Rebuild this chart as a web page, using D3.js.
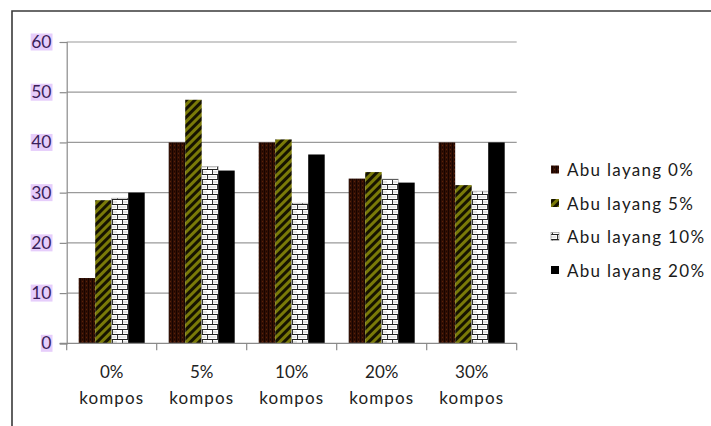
<!DOCTYPE html>
<html>
<head>
<meta charset="utf-8">
<script src="https://cdn.jsdelivr.net/npm/d3@7"></script>
<style>
  html, body { margin: 0; padding: 0; background: #fff; }
  svg { display: block; }
  text { font-family: Lato, "Open Sans", sans-serif; }
</style>
</head>
<body>
<svg id="chart" width="711" height="426"></svg>
<script>
// Compressive strength by compost share, one bar per fly-ash share
const categories = ["0%", "5%", "10%", "20%", "30%"];
const categorySuffix = "kompos";
const seriesNames = ["Abu layang 0%", "Abu layang 5%", "Abu layang 10%", "Abu layang 20%"];
const abuLayang0 = [13, 40, 40, 32.8, 40];
const abuLayang5 = [28.5, 48.5, 40.6, 34.1, 31.5];
const abuLayang10 = [28.9, 35.2, 27.9, 32.7, 30.3];
const abuLayang20 = [30, 34.4, 37.6, 32, 40];
const yTicks = [0, 10, 20, 30, 40, 50, 60];

const seriesValues = [abuLayang0, abuLayang5, abuLayang10, abuLayang20];

const svg = d3.select("#chart");

// ---- fill patterns ----
const defs = svg.append("defs");

// dark brown, fine dotted grid
const pBrown = defs.append("pattern").attr("id", "pBrown")
  .attr("patternUnits", "userSpaceOnUse").attr("width", 4).attr("height", 4);
pBrown.append("rect").attr("width", 4).attr("height", 4).attr("fill", "#331004");
pBrown.append("rect").attr("x", 0).attr("width", 1).attr("height", 4).attr("fill", "#170400");
pBrown.append("rect").attr("x", 2).attr("y", 1).attr("width", 1).attr("height", 1).attr("fill", "#5a220a");
pBrown.append("rect").attr("x", 2).attr("y", 3).attr("width", 1).attr("height", 1).attr("fill", "#1f0600");

// olive / black wide upward diagonal
const pOlive = defs.append("pattern").attr("id", "pOlive")
  .attr("patternUnits", "userSpaceOnUse").attr("width", 6).attr("height", 6)
  .attr("patternTransform", "rotate(45)");
pOlive.append("rect").attr("width", 6).attr("height", 6).attr("fill", "#161300");
pOlive.append("rect").attr("width", 3).attr("height", 6).attr("fill", "#7a7a08");

// white bricks with dark mortar
const pBrick = defs.append("pattern").attr("id", "pBrick")
  .attr("patternUnits", "userSpaceOnUse").attr("width", 10).attr("height", 10);
pBrick.append("rect").attr("width", 10).attr("height", 10).attr("fill", "#ffffff");
pBrick.append("rect").attr("y", 4).attr("width", 10).attr("height", 1).attr("fill", "#222");
pBrick.append("rect").attr("y", 9).attr("width", 10).attr("height", 1).attr("fill", "#222");
pBrick.append("rect").attr("x", 2).attr("y", 0).attr("width", 1).attr("height", 4).attr("fill", "#333");
pBrick.append("rect").attr("x", 7).attr("y", 5).attr("width", 1).attr("height", 4).attr("fill", "#333");
pBrick.append("rect").attr("x", 3).attr("y", 1).attr("width", 4).attr("height", 2).attr("fill", "#e4e4e4");
pBrick.append("rect").attr("x", 8).attr("y", 6).attr("width", 2).attr("height", 2).attr("fill", "#e4e4e4");
pBrick.append("rect").attr("x", 0).attr("y", 6).attr("width", 6).attr("height", 2).attr("fill", "#e4e4e4");

const fills = ["url(#pBrown)", "url(#pOlive)", "url(#pBrick)", "#000000"];

// ---- outer frame ----
svg.append("path")
  .attr("d", "M12,426 V11 H711")
  .attr("fill", "none").attr("stroke", "#3a3a3a").attr("stroke-width", 1.6);

// ---- scales ----
const plotLeft = 66.7, plotRight = 516.7, plotTop = 42, plotBottom = 343.3;
const x = d3.scaleBand().domain(categories).range([plotLeft, plotRight]).padding(0);
const inner = d3.scaleBand().domain(seriesNames)
  .range([x.bandwidth() * 0.1333, x.bandwidth() * 0.8667]).padding(0);
const y = d3.scaleLinear().domain([0, 60]).range([plotBottom, plotTop]);

// ---- gridlines ----
svg.append("g").selectAll("line").data(yTicks.filter(d => d > 0)).join("line")
  .attr("x1", plotLeft).attr("x2", plotRight)
  .attr("y1", d => y(d)).attr("y2", d => y(d))
  .attr("stroke", "#9a9a9a").attr("stroke-width", 1.2);

// ---- bars ----
const barData = [];
categories.forEach((c, ci) => {
  seriesNames.forEach((s, si) => barData.push({ c, s, si, v: seriesValues[si][ci] }));
});
svg.append("g").selectAll("rect").data(barData).join("rect")
  .attr("x", d => x(d.c) + inner(d.s))
  .attr("y", d => y(d.v))
  .attr("width", inner.bandwidth())
  .attr("height", d => y(0) - y(d.v))
  .attr("fill", d => fills[d.si])
  .attr("stroke", d => d.si === 2 ? "#999" : "none")
  .attr("stroke-width", 0.6);

// ---- y axis ----
const yAxis = svg.append("g").attr("transform", `translate(${plotLeft},0)`)
  .call(d3.axisLeft(y).tickValues(yTicks).tickSize(7).tickPadding(0).tickFormat(d3.format("d")));
yAxis.select(".domain").attr("stroke", "#8a8a8a").attr("stroke-width", 1.2);
yAxis.selectAll(".tick line").attr("stroke", "#8a8a8a").attr("stroke-width", 1.2);
yAxis.selectAll(".tick text").remove();

// y labels with purple highlight
const yLab = svg.append("g");
yTicks.forEach(t => {
  const g = yLab.append("g");
  const txt = g.append("text")
    .attr("x", 51.5).attr("y", y(t) + 6)
    .attr("text-anchor", "end")
    .attr("font-size", 17.5)
    .attr("fill", "#3b1f5a")
    .text(t);
  const bb = txt.node().getBBox();
  g.insert("rect", "text")
    .attr("x", bb.x - 0.5).attr("y", y(t) - 8.5)
    .attr("width", bb.width + 1.5).attr("height", 17)
    .attr("fill", "#e6cdfb");
});

// ---- x axis ----
const xAxis = svg.append("g").attr("transform", `translate(0,${plotBottom})`);
xAxis.append("line").attr("x1", plotLeft - 7).attr("x2", plotRight)
  .attr("stroke", "#8a8a8a").attr("stroke-width", 1.2);
const bounds = categories.map(c => x(c)).concat([plotRight]);
xAxis.selectAll(".xt").data(bounds).join("line").attr("class", "xt")
  .attr("x1", d => d).attr("x2", d => d).attr("y1", 0).attr("y2", 7)
  .attr("stroke", "#8a8a8a").attr("stroke-width", 1.2);

const xl = svg.append("g");
categories.forEach(c => {
  const cx = x(c) + x.bandwidth() / 2;
  xl.append("text").attr("x", cx).attr("y", 378).attr("text-anchor", "middle")
    .attr("font-size", 17).attr("fill", "#222").text(c);
  xl.append("text").attr("x", cx).attr("y", 404).attr("text-anchor", "middle")
    .attr("font-size", 17).attr("letter-spacing", 1.1).attr("fill", "#222").text(categorySuffix);
});

// ---- legend ----
const legendY = [170, 203.5, 237, 270.5];
const lg = svg.append("g");
seriesNames.forEach((s, i) => {
  lg.append("rect").attr("x", 551).attr("y", legendY[i] - 4.5)
    .attr("width", 8).attr("height", 8)
    .attr("fill", fills[i])
    .attr("stroke", i === 2 ? "#888" : "none").attr("stroke-width", 0.6);
  lg.append("text").attr("x", 567).attr("y", legendY[i] + 6)
    .attr("font-size", 17).attr("letter-spacing", 1.3).attr("fill", "#1a1a1a")
    .text(s);
});
</script>
</body>
</html>
